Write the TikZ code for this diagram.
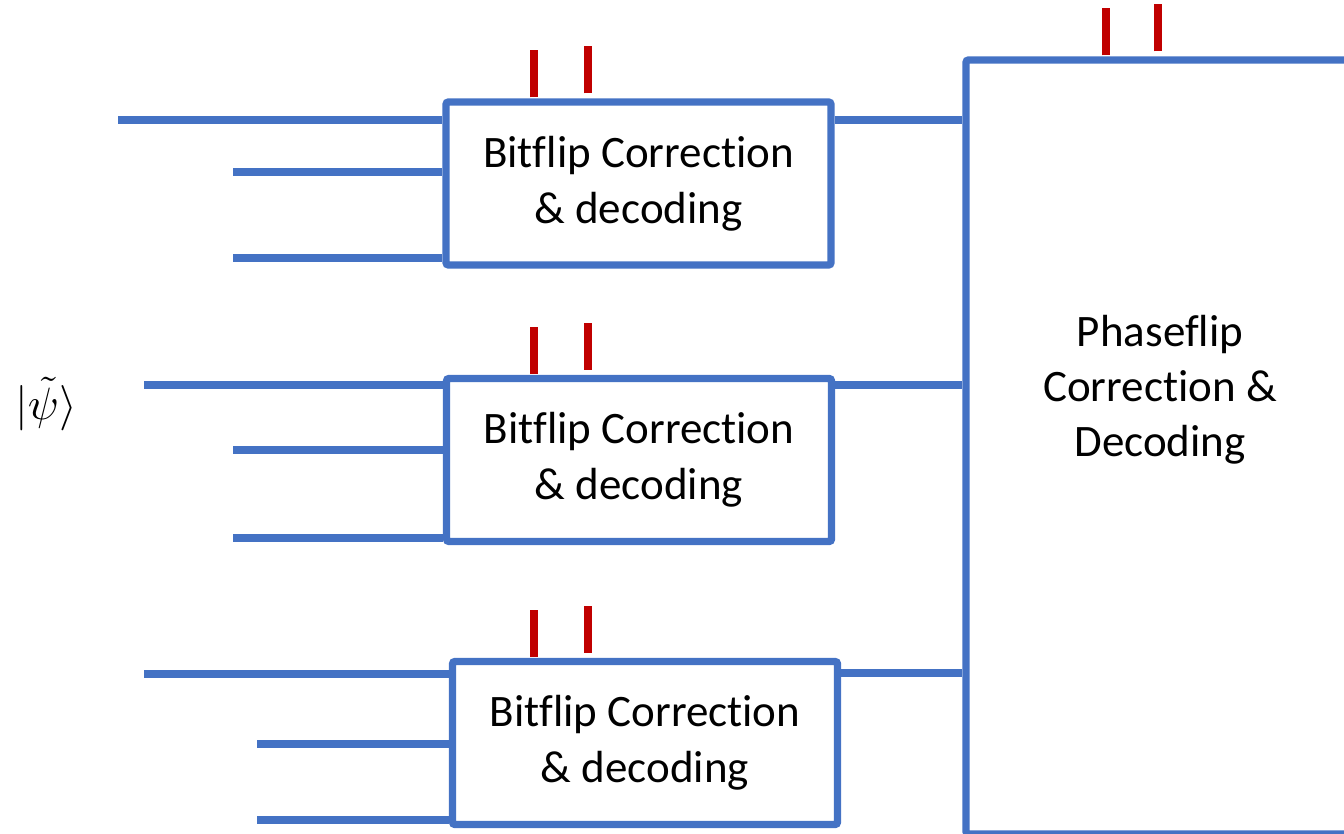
\documentclass[tikz,border=0pt]{standalone}
\usepackage{fontspec}
\setmainfont{Carlito}[Ligatures=NoCommon]

\definecolor{wireblue}{RGB}{68,114,196}
\definecolor{markred}{RGB}{192,0,0}

\tikzset{
  wire/.style={draw=wireblue, line width=5.6pt},
  syndrome/.style={draw=markred, line width=6pt},
  gatebox/.style={draw=wireblue, line width=5.6pt, rounded corners=2pt, fill=white,
    minimum width=288.75pt, minimum height=122.25pt, inner sep=0pt, align=center,
    font=\fontsize{33.75}{42}\selectfont},
  phasebox/.style={draw=wireblue, line width=5.6pt, rounded corners=2pt,
    minimum width=295.5pt, minimum height=580.5pt, inner sep=0pt},
  boxtext/.style={align=center, inner sep=0pt, font=\fontsize{33.75}{41.25}\selectfont},
}

\begin{document}
\begin{tikzpicture}[x=0.75pt,y=0.75pt,yscale=-1]
\useasboundingbox (0,0) rectangle (1344,834);
\clip (0,0) rectangle (1344,834);

%Shape: Rectangle, phase flip stage
\node[phasebox] (pf) at (1163,447) {};
% Text Node
\node[boxtext] (pftext) at (1160,390) {Phaseflip\\Correction \&\\Decoding};

%Shape: Rectangle, bit flip stages
\node[gatebox] (b1) at (638.5,183.5) {Bitflip Correction\\\& decoding};
\node[gatebox] (b2) at (639,460) {Bitflip Correction\\\& decoding};
\node[gatebox] (b3) at (645,743) {Bitflip Correction\\\& decoding};

% Text Node
\node[inner sep=0pt, scale=3.4] (ket) at (46,404) {$|\tilde{\psi}\rangle$};

%Straight Lines, input wires
\foreach \b/\ya/\xa/\yb/\yc/\xb in {b1/120/118/172/258/233, b2/385/144/450/538/233, b3/674/144/744/820/257} {
  \coordinate (\b in1) at (\xa,\ya);
  \coordinate (\b in2) at (\xb,\yb);
  \coordinate (\b in3) at (\xb,\yc);
  \draw[wire] (\b in1) -- (\b in1 -| \b.west);
  \draw[wire] (\b in2) -- (\b in2 -| \b.west);
  \draw[wire] (\b in3) -- (\b in3 -| \b.west);
}

%Straight Lines, outputs into the phase flip stage
\draw[wire] (b1.east |- 0,120) -- (pf.west |- 0,120);
\draw[wire] (b2.east |- 0,385) -- (pf.west |- 0,385);
\draw[wire] (b3.east |- 0,673) -- (pf.west |- 0,673);

%Straight Lines, syndrome bits
\foreach \b in {b1,b2,b3} {
  \draw[syndrome] (534,0 |- \b.north) ++(0,-1) -- ++(0,-47);
  \draw[syndrome] (588,0 |- \b.north) ++(0,-5) -- ++(0,-47);
}
\draw[syndrome] (1106,0 |- pf.north) ++(0,-1) -- ++(0,-47);
\draw[syndrome] (1158,0 |- pf.north) ++(0,-5) -- ++(0,-47);

\end{tikzpicture}
\end{document}
